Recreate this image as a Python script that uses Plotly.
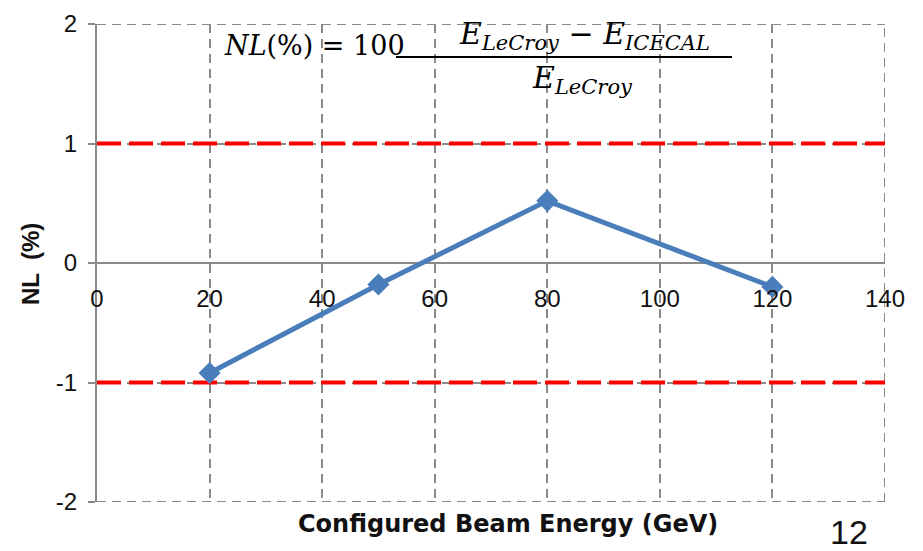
import plotly.graph_objects as go

# Data
energy = [20, 50, 80, 120]
nl_percent = [-0.92, -0.18, 0.52, -0.20]
limit_x = [0, 140]
upper_limit = [1, 1]
lower_limit = [-1, -1]
x_ticks = [0, 20, 40, 60, 80, 100, 120, 140]
y_ticks = [-2, -1, 0, 1, 2]
x_range = [0, 140]
y_range = [-2, 2]

# the page body adds an 8px margin, so the figure is drawn 8px smaller
OFF = 8
SW, SH = 923, 551            # screen size
W, H = SW - OFF, SH - OFF    # figure size
PL, PR, PT, PB = 97, 885, 24, 502   # plot area in screen pixels
L, T = PL - OFF, PT - OFF
R, B = SW - PR, SH - PB
pw, ph = PR - PL, PB - PT

def px(x):
    return (x - PL) / pw

def py(y):
    return (PB - y) / ph

GRID = "#8a8a8a"
DASH = "9px,6px"

fig = go.Figure()

for yy in (upper_limit, lower_limit):
    fig.add_trace(go.Scatter(
        x=limit_x, y=yy, mode="lines",
        line=dict(color="#ff0000", width=4, dash="24px,8px"),
        hoverinfo="skip", showlegend=False))

fig.add_trace(go.Scatter(
    x=energy, y=nl_percent, mode="lines+markers",
    line=dict(color="#4a7ebb", width=5),
    marker=dict(symbol="diamond", size=17, color="#4a7ebb"),
    showlegend=False))

grid = dict(showgrid=True, gridcolor=GRID, gridwidth=2, griddash=DASH)
tickfont = dict(family="Liberation Sans, Arial", size=24, color="#111")

fig.update_xaxes(
    range=x_range, tickvals=x_ticks, ticktext=[str(v) for v in x_ticks],
    anchor="free", position=0.5, showline=False, zeroline=False,
    ticks="outside", ticklen=14, tickcolor="rgba(0,0,0,0)",
    tickfont=tickfont, **grid)
fig.update_yaxes(
    range=y_range, tickvals=y_ticks, ticktext=[str(v) for v in y_ticks],
    showline=True, linecolor=GRID, linewidth=2,
    zeroline=True, zerolinecolor=GRID, zerolinewidth=2,
    ticks="outside", ticklen=7, tickcolor=GRID, tickwidth=2,
    ticklabelstandoff=6, tickfont=tickfont, **grid)

# outer dashed grid lines at the range edges
for yv in (y_range[0], y_range[1]):
    fig.add_shape(type="line", xref="x", yref="y", x0=x_range[0], x1=x_range[1],
                  y0=yv, y1=yv, line=dict(color=GRID, width=2, dash=DASH),
                  layer="between")
fig.add_shape(type="line", xref="x", yref="y", x0=x_range[1], x1=x_range[1],
              y0=y_range[0], y1=y_range[1], line=dict(color=GRID, width=2, dash=DASH),
              layer="between")

# white box behind formula
fig.add_shape(type="rect", xref="paper", yref="paper",
              x0=px(214), x1=px(733), y0=py(97), y1=py(21),
              fillcolor="white", line=dict(width=0), layer="between")
# fraction bar
fig.add_shape(type="line", xref="paper", yref="paper",
              x0=px(396), x1=px(732), y0=py(57), y1=py(57),
              line=dict(color="black", width=2), layer="above")

serif = "DejaVu Serif, Liberation Serif, serif"
fig.add_annotation(xref="paper", yref="paper", x=px(222), y=py(46),
                   xanchor="left", yanchor="middle", showarrow=False,
                   text="<i>NL</i>(%) = 100",
                   font=dict(family=serif, size=27, color="black"))
fig.add_annotation(xref="paper", yref="paper", x=px(584), y=py(36),
                   xanchor="center", yanchor="middle", showarrow=False,
                   text="<i>E</i><sub><i>LeCroy</i></sub> − <i>E</i><sub><i>ICECAL</i></sub>",
                   font=dict(family=serif, size=30, color="black"))
fig.add_annotation(xref="paper", yref="paper", x=px(582), y=py(80),
                   xanchor="center", yanchor="middle", showarrow=False,
                   text="<i>E</i><sub><i>LeCroy</i></sub>",
                   font=dict(family=serif, size=30, color="black"))

# axis titles
fig.add_annotation(xref="paper", yref="paper", x=px(30), y=py(264),
                   xanchor="center", yanchor="middle", showarrow=False,
                   textangle=-90, text="<b>NL  (%)</b>",
                   font=dict(family="Liberation Sans, Arial", size=24, color="#111"))
fig.add_annotation(xref="paper", yref="paper", x=px(508), y=py(524),
                   xanchor="center", yanchor="middle", showarrow=False,
                   text="<b>Configured Beam Energy (GeV)</b>",
                   font=dict(family="DejaVu Sans", size=24, color="#111"))
fig.add_annotation(xref="paper", yref="paper", x=px(849), y=py(532),
                   xanchor="center", yanchor="middle", showarrow=False,
                   text="12",
                   font=dict(family="Liberation Sans, Arial", size=34, color="#111"))

fig.update_layout(
    width=W, height=H, margin=dict(l=L, r=R, t=T, b=B, autoexpand=False),
    paper_bgcolor="white", plot_bgcolor="white", showlegend=False)

fig.write_html("out.html")
